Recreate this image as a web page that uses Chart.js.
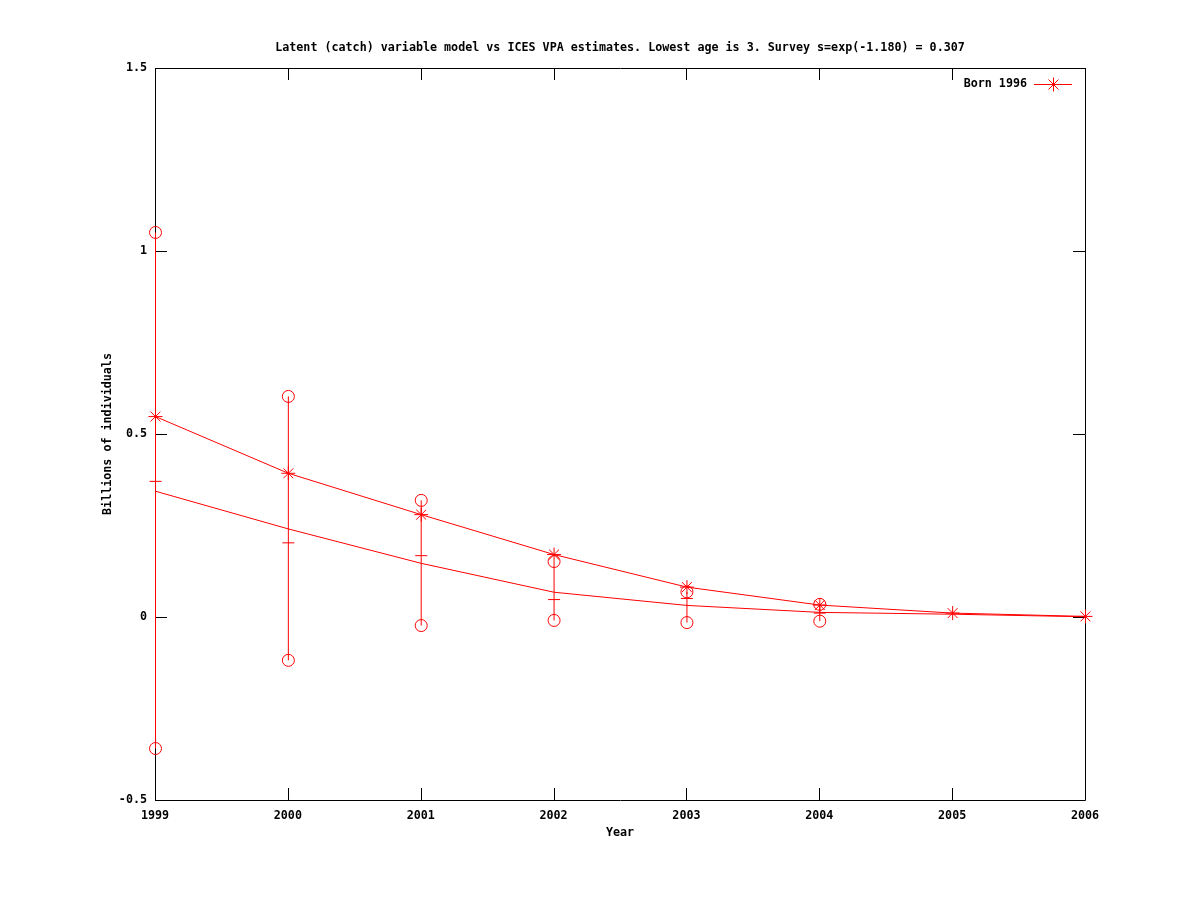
<!DOCTYPE html>
<html>
<head>
<meta charset="utf-8">
<title>Born 1996</title>
<script src="https://cdn.jsdelivr.net/npm/chart.js@4"></script>
<style>
  html, body { margin: 0; padding: 0; background: #fff; }
  #chart { display: block; }
</style>
</head>
<body>
<canvas id="chart" width="1200" height="900"></canvas>
<script>
/* values */
var YEARS = [1999, 2000, 2001, 2002, 2003, 2004, 2005, 2006];
var LATENT = [0.549, 0.394, 0.281, 0.172, 0.083, 0.034, 0.012, 0.003];
var VPA    = [0.345, 0.242, 0.148, 0.069, 0.033, 0.014, 0.009, 0.002];

var SURVEY_YEARS = [1999, 2000, 2001, 2002, 2003, 2004];
var SURVEY_HIGH  = [1.052, 0.604, 0.320, 0.153, 0.070, 0.036];
var SURVEY_MID   = [0.372, 0.204, 0.169, 0.049, 0.052, 0.012];
var SURVEY_LOW   = [-0.358, -0.117, -0.022, -0.008, -0.014, -0.010];

var Y_TICKS = [-0.5, 0, 0.5, 1, 1.5];
var X_TICKS = YEARS;

var TITLE = 'Latent (catch) variable model vs ICES VPA estimates. Lowest age is 3. Survey s=exp(-1.180) = 0.307';
var X_TITLE = 'Year';
var Y_TITLE = 'Billions of individuals';
var LEGEND_LABEL = 'Born 1996';

var RED = '#ff0000';
var FONT = "'DejaVu Sans Mono', monospace";
var FONT_SIZE = 11.7;

function pts(xs, ys) {
  return xs.map(function (x, i) { return { x: x, y: ys[i] }; });
}

/* vertical bars: low -> high, broken by a null point */
var errorBars = [];
SURVEY_YEARS.forEach(function (x, i) {
  errorBars.push({ x: x, y: SURVEY_LOW[i] });
  errorBars.push({ x: x, y: SURVEY_HIGH[i] });
  errorBars.push({ x: x, y: null });
});

/* axes frame, inward ticks, titles and legend */
var framePlugin = {
  id: 'frame',
  beforeDatasetsDraw: function (chart) {
    var ctx = chart.ctx, a = chart.chartArea;
    var sx = chart.scales.x, sy = chart.scales.y;
    var tl = 12;
    ctx.save();
    ctx.strokeStyle = '#000';
    ctx.lineWidth = 1;
    ctx.beginPath();
    ctx.rect(a.left + 0.5, a.top + 0.5, a.right - a.left, a.bottom - a.top);
    Y_TICKS.forEach(function (v) {
      var py = Math.round(sy.getPixelForValue(v)) + 0.5;
      ctx.moveTo(a.left, py); ctx.lineTo(a.left + tl, py);
      ctx.moveTo(a.right, py); ctx.lineTo(a.right - tl, py);
    });
    X_TICKS.forEach(function (v) {
      var px = Math.round(sx.getPixelForValue(v)) + 0.5;
      ctx.moveTo(px, a.bottom); ctx.lineTo(px, a.bottom - tl);
      ctx.moveTo(px, a.top); ctx.lineTo(px, a.top + tl);
    });
    ctx.stroke();
    ctx.restore();
    /* half-pixel shift so 1px data lines are crisp */
    ctx.save();
    ctx.translate(0.5, 0.5);
  },
  afterDatasetsDraw: function (chart) {
    chart.ctx.restore();
  },
  afterDraw: function (chart) {
    var ctx = chart.ctx, a = chart.chartArea;
    var cx = (a.left + a.right) / 2;
    ctx.save();
    ctx.fillStyle = '#000';
    ctx.font = 'bold ' + FONT_SIZE + 'px ' + FONT;
    ctx.textBaseline = 'middle';
    ctx.textAlign = 'center';
    ctx.fillText(TITLE, cx, 48);
    ctx.fillText(X_TITLE, cx, 833);
    ctx.save();
    ctx.translate(108, (a.top + a.bottom) / 2);
    ctx.rotate(-Math.PI / 2);
    ctx.fillText(Y_TITLE, 0, 0);
    ctx.restore();

    /* legend: label, line sample and star */
    ctx.textAlign = 'right';
    ctx.fillText(LEGEND_LABEL, 1027, 84);
    var lx = 1053.5, ly = 84.5, r = 7, d = 5;
    ctx.strokeStyle = RED;
    ctx.lineWidth = 1;
    ctx.beginPath();
    ctx.moveTo(1034, ly); ctx.lineTo(1072, ly);
    ctx.moveTo(lx, ly - r); ctx.lineTo(lx, ly + r);
    ctx.moveTo(lx - d, ly - d); ctx.lineTo(lx + d, ly + d);
    ctx.moveTo(lx - d, ly + d); ctx.lineTo(lx + d, ly - d);
    ctx.stroke();
    ctx.restore();
  }
};

new Chart(document.getElementById('chart').getContext('2d'), {
  type: 'scatter',
  data: {
    datasets: [
      {
        type: 'line',
        label: 'survey range',
        data: errorBars,
        borderColor: RED,
        borderWidth: 1,
        pointRadius: 0,
        spanGaps: false,
        clip: false,
      },
      {
        type: 'line',
        label: 'ICES VPA',
        data: pts(YEARS, VPA),
        borderColor: RED,
        borderWidth: 1,
        pointRadius: 0,
        tension: 0,
        clip: false,
      },
      {
        type: 'line',
        label: LEGEND_LABEL,
        data: pts(YEARS, LATENT),
        borderColor: RED,
        borderWidth: 1,
        pointStyle: 'star',
        pointRadius: 7,
        pointBorderColor: RED,
        pointBorderWidth: 1,
        tension: 0,
        clip: false,
      },
      {
        label: 'survey high',
        data: pts(SURVEY_YEARS, SURVEY_HIGH),
        pointStyle: 'circle',
        pointRadius: 6,
        borderColor: RED,
        backgroundColor: 'rgba(0,0,0,0)',
        borderWidth: 1,
        clip: false,
      },
      {
        label: 'survey low',
        data: pts(SURVEY_YEARS, SURVEY_LOW),
        pointStyle: 'circle',
        pointRadius: 6,
        borderColor: RED,
        backgroundColor: 'rgba(0,0,0,0)',
        borderWidth: 1,
        clip: false,
      },
      {
        label: 'survey mid',
        data: pts(SURVEY_YEARS, SURVEY_MID),
        pointStyle: 'line',
        pointRadius: 6,
        borderColor: RED,
        borderWidth: 1,
        clip: false,
      },
    ],
  },
  options: {
    responsive: false,
    animation: false,
    events: [],
    layout: { padding: { left: 0, top: 68, right: 115, bottom: 0 } },
    plugins: {
      legend: { display: false },
      title: { display: false },
      tooltip: { enabled: false },
    },
    scales: {
      x: {
        type: 'linear',
        min: 1999,
        max: 2006,
        afterBuildTicks: function (s) { s.ticks = X_TICKS.map(function (v) { return { value: v }; }); },
        afterFit: function (s) { s.height = 100; },
        grid: { display: false, drawTicks: false },
        border: { display: false },
        ticks: {
          padding: 9,
          color: '#000',
          maxRotation: 0,
          font: { family: FONT, size: FONT_SIZE, weight: 'bold' },
          callback: function (v) { return String(v); },
        },
      },
      y: {
        type: 'linear',
        min: -0.5,
        max: 1.5,
        afterBuildTicks: function (s) { s.ticks = Y_TICKS.map(function (v) { return { value: v }; }); },
        afterFit: function (s) { s.width = 155; },
        grid: { display: false, drawTicks: false },
        border: { display: false },
        ticks: {
          padding: 8,
          color: '#000',
          font: { family: FONT, size: FONT_SIZE, weight: 'bold' },
          callback: function (v) { return String(v); },
        },
      },
    },
  },
  plugins: [framePlugin],
});
</script>
</body>
</html>
